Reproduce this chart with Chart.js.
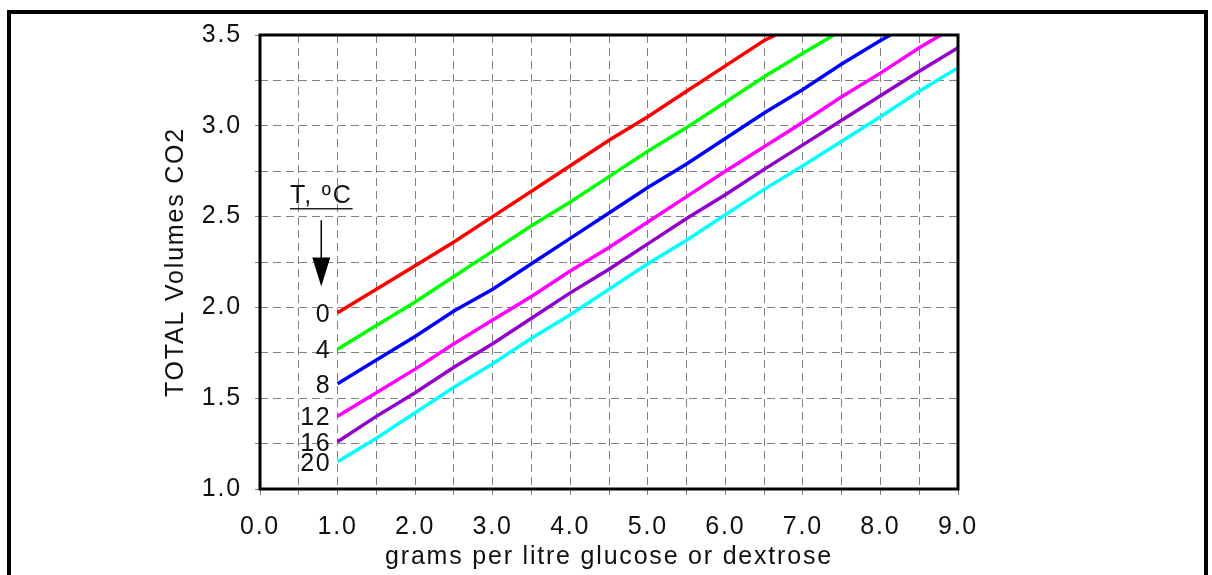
<!DOCTYPE html>
<html lang="en">
<head>
    <meta charset="UTF-8">
    <title>TOTAL Volumes CO2</title>
    <script src="https://cdn.jsdelivr.net/npm/chart.js"></script>
    <style>
        body {
            margin: 0;
            padding: 0;
            background-color: #fff;
            overflow: hidden;
        }

        .marco {
            position: absolute;
            left: 7px;
            top: 10px;
            width: 1193px;
            height: 600px;
            border: 4px solid #000;
        }

        #grafico {
            position: absolute;
            left: 0;
            top: 0;
        }
    </style>
</head>
<body>

    <div class="marco"></div>
    <canvas id="grafico" width="1212" height="575"></canvas>

    <script>
        // Temperaturas (etiquetas de cada curva)
        const temperaturas = ['0', '4', '8', '12', '16', '20'];
        const colores = ['#ff0000', '#00ff00', '#0000ff', '#ff00ff', '#9400cc', '#00ffff'];

        // gramos por litro (eje x) de cada curva
        const gx0  = [1.0, 1.5, 2.0, 2.5, 3.0, 3.5, 4.0, 4.5, 5.0, 5.5, 6.0, 6.5, 6.65];
        const gx4  = [1.0, 1.5, 2.0, 2.5, 3.0, 3.5, 4.0, 4.5, 5.0, 5.5, 6.0, 6.5, 7.0, 7.40];
        const gx8  = [1.0, 1.5, 2.0, 2.5, 3.0, 3.5, 4.0, 4.5, 5.0, 5.5, 6.0, 6.5, 7.0, 7.5, 8.0, 8.13];
        const gx12 = [1.0, 1.5, 2.0, 2.5, 3.0, 3.5, 4.0, 4.5, 5.0, 5.5, 6.0, 6.5, 7.0, 7.5, 8.0, 8.5, 8.78];
        const gx16 = [1.0, 1.5, 2.0, 2.5, 3.0, 3.5, 4.0, 4.5, 5.0, 5.5, 6.0, 6.5, 7.0, 7.5, 8.0, 8.5, 9.0];
        const gx20 = [1.0, 1.5, 2.0, 2.5, 3.0, 3.5, 4.0, 4.5, 5.0, 5.5, 6.0, 6.5, 7.0, 7.5, 8.0, 8.5, 9.0];

        // volumenes totales de CO2
        const vol0  = [1.97, 2.10, 2.23, 2.36, 2.50, 2.64, 2.78, 2.92, 3.05, 3.19, 3.33, 3.47, 3.50];
        const vol4  = [1.77, 1.90, 2.03, 2.17, 2.31, 2.45, 2.58, 2.72, 2.86, 2.99, 3.13, 3.27, 3.40, 3.50];
        const vol8  = [1.58, 1.71, 1.84, 1.98, 2.10, 2.24, 2.38, 2.52, 2.66, 2.79, 2.93, 3.07, 3.20, 3.34, 3.47, 3.50];
        const vol12 = [1.40, 1.53, 1.66, 1.80, 1.93, 2.06, 2.20, 2.33, 2.47, 2.61, 2.75, 2.885, 3.02, 3.16, 3.29, 3.43, 3.50];
        const vol16 = [1.26, 1.40, 1.53, 1.67, 1.80, 1.94, 2.08, 2.21, 2.35, 2.49, 2.62, 2.76, 2.895, 3.03, 3.165, 3.30, 3.43];
        const vol20 = [1.15, 1.28, 1.42, 1.56, 1.69, 1.83, 1.96, 2.10, 2.24, 2.37, 2.51, 2.65, 2.78, 2.915, 3.05, 3.19, 3.32];

        const ejesX = [gx0, gx4, gx8, gx12, gx16, gx20];
        const series = [vol0, vol4, vol8, vol12, vol16, vol20];

        const fuente = 'Liberation Sans';
        const tam = 25;
        const espaciado = '1.8px';  // letras separadas como en el original

        const datasets = series.map((vals, i) => ({
            label: temperaturas[i],
            data: vals.map((v, j) => ({ x: ejesX[i][j], y: v })),
            borderColor: colores[i],
            borderWidth: 3.5,
            pointRadius: 0,
            tension: 0,
            fill: false
        }));

        function etiquetaCada(paso) {
            return function (value) {
                const r = value / paso;
                return Math.abs(r - Math.round(r)) < 1e-6 ? Number(value).toFixed(1) : '';
            };
        }

        // separacion de letras en todo el canvas
        const separacion = {
            id: 'separacion',
            beforeUpdate(chart) { chart.ctx.letterSpacing = espaciado; },
            beforeDraw(chart) { chart.ctx.letterSpacing = espaciado; }
        };

        // marco del area, numeros al inicio de cada curva y la leyenda "T, ºC"
        const extras = {
            id: 'extras',
            afterDatasetsDraw(chart) {
                const { ctx, chartArea } = chart;
                const sx = chart.scales.x;
                const sy = chart.scales.y;
                ctx.save();

                ctx.fillStyle = '#111';
                ctx.font = tam + 'px "' + fuente + '"';
                ctx.textAlign = 'right';
                ctx.textBaseline = 'middle';
                chart.data.datasets.forEach((ds, i) => {
                    const p = chart.getDatasetMeta(i).data[0];
                    ctx.fillText(ds.label, p.x - 6, p.y + 2);
                });

                // leyenda de temperatura
                const ax = sx.getPixelForValue(0.79);
                const ty = sy.getPixelForValue(2.615);
                ctx.textAlign = 'center';
                ctx.fillText('T, ºC', ax, ty);
                const w = ctx.measureText('T, ºC').width;
                ctx.strokeStyle = '#222';
                ctx.lineWidth = 1.5;
                ctx.beginPath();
                ctx.moveTo(ax - w / 2, ty + 13);
                ctx.lineTo(ax + w / 2, ty + 13);
                ctx.stroke();

                const y1 = sy.getPixelForValue(2.48);
                const y2 = sy.getPixelForValue(2.115);
                ctx.strokeStyle = '#000';
                ctx.beginPath();
                ctx.moveTo(ax, y1);
                ctx.lineTo(ax, y2 - 24);
                ctx.stroke();
                ctx.fillStyle = '#000';
                ctx.beginPath();
                ctx.moveTo(ax - 9, y2 - 29);
                ctx.lineTo(ax + 9, y2 - 29);
                ctx.lineTo(ax, y2);
                ctx.closePath();
                ctx.fill();

                ctx.strokeStyle = '#000';
                ctx.lineWidth = 3;
                ctx.strokeRect(chartArea.left, chartArea.top,
                    chartArea.right - chartArea.left, chartArea.bottom - chartArea.top);
                ctx.restore();
            }
        };

        const grafico = new Chart(document.getElementById('grafico').getContext('2d'), {
            type: 'line',
            data: { datasets: datasets },
            options: {
                responsive: false,
                animation: false,
                layout: {
                    padding: { left: 150, top: 35, right: 254, bottom: 0 }
                },
                plugins: {
                    legend: { display: false },
                    tooltip: { enabled: false }
                },
                scales: {
                    x: {
                        type: 'linear',
                        min: 0,
                        max: 9,
                        afterFit: scale => { scale.height = 86; },
                        ticks: {
                            stepSize: 0.5,
                            autoSkip: false,
                            maxRotation: 0,
                            padding: 17,
                            color: '#111',
                            font: { family: fuente, size: tam },
                            callback: etiquetaCada(1)
                        },
                        grid: {
                            color: '#808080',
                            lineWidth: 1,
                            tickLength: 6,
                            tickColor: '#808080',
                            tickBorderDash: []
                        },
                        border: { display: false, dash: [8, 5] },
                        title: {
                            display: true,
                            text: 'grams per litre glucose or dextrose',
                            color: '#111',
                            font: { family: fuente, size: tam },
                            padding: { top: 0, bottom: 3 }
                        }
                    },
                    y: {
                        type: 'linear',
                        min: 1,
                        max: 3.5,
                        afterFit: scale => { scale.width = 110; },
                        ticks: {
                            stepSize: 0.25,
                            autoSkip: false,
                            padding: 13,
                            color: '#111',
                            font: { family: fuente, size: tam },
                            callback: etiquetaCada(0.5)
                        },
                        grid: {
                            color: '#808080',
                            lineWidth: 1,
                            tickLength: 5,
                            tickColor: '#808080',
                            tickBorderDash: []
                        },
                        border: { display: false, dash: [8, 5] },
                        title: {
                            display: true,
                            text: 'TOTAL Volumes CO2',
                            color: '#111',
                            font: { family: fuente, size: tam },
                            padding: { top: 11, bottom: 0 }
                        }
                    }
                }
            },
            plugins: [separacion, extras]
        });
    </script>

</body>
</html>
